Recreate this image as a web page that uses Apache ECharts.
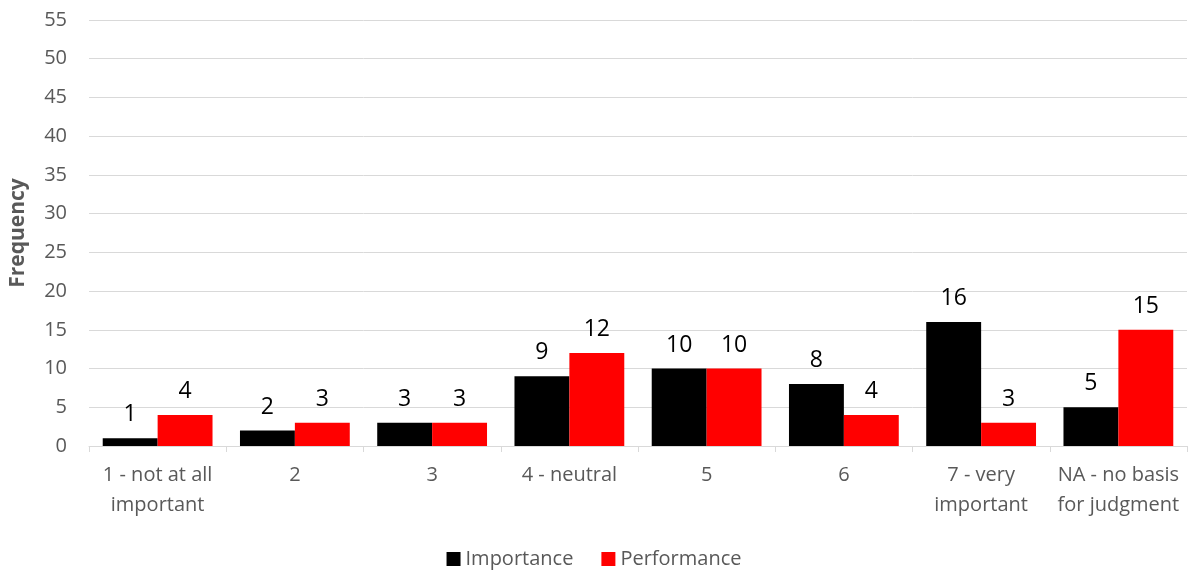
<!DOCTYPE html>
<html>
<head>
<meta charset="utf-8">
<script src="https://cdn.jsdelivr.net/npm/echarts@6/dist/echarts.min.js"></script>
<style>
  html, body { margin: 0; padding: 0; background: #fff; }
  #chart { width: 1188px; height: 572px; }
</style>
</head>
<body>
<div id="chart"></div>
<script>
  var categories = ['1 - not at all\nimportant', '2', '3', '4 - neutral', '5', '6', '7 - very\nimportant', 'NA - no basis\nfor judgment'];
  var importance = [1, 2, 3, 9, 10, 8, 16, 5];
  var performance = [4, 3, 3, 12, 10, 4, 3, 15];
  var yTicks = [0, 5, 10, 15, 20, 25, 30, 35, 40, 45, 50, 55];

  var font = '"Open Sans", Lato, sans-serif';
  var myChart = echarts.init(document.getElementById('chart'));

  var labelStyle = {
    show: true,
    position: 'top',
    distance: 12,
    color: '#000',
    fontSize: 23,
    fontFamily: font
  };

  myChart.setOption({
    animation: false,
    textStyle: {fontFamily: font},
    grid: {left: 89, right: 1, top: 20, bottom: 126, containLabel: false, outerBoundsMode: 'none'},
    legend: {
      top: 544,
      left: 'center',
      itemWidth: 14,
      itemHeight: 14,
      itemGap: 28,
      icon: 'rect',
      textStyle: {color: '#595959', fontSize: 20, fontFamily: font},
      data: ['Importance', 'Performance']
    },
    xAxis: {
      type: 'category',
      data: categories,
      axisLine: {lineStyle: {color: '#d9d9d9', width: 1}},
      axisTick: {show: true, length: 6, lineStyle: {color: '#d9d9d9'}},
      axisLabel: {color: '#595959', fontSize: 20, fontFamily: font, lineHeight: 30, margin: 14, interval: 0}
    },
    yAxis: {
      type: 'value',
      min: yTicks[0],
      max: yTicks[yTicks.length - 1],
      interval: 5,
      name: 'Frequency',
      nameLocation: 'middle',
      nameGap: 60,
      nameTextStyle: {color: '#595959', fontSize: 21, fontWeight: 'bold', fontFamily: font},
      axisLine: {show: false},
      axisTick: {show: false},
      axisLabel: {color: '#595959', fontSize: 20, fontFamily: font, margin: 22},
      splitLine: {lineStyle: {color: '#d9d9d9', width: 1}}
    },
    series: [
      {
        name: 'Importance',
        type: 'bar',
        data: importance,
        barGap: '0%',
        barCategoryGap: '20%',
        itemStyle: {color: '#000000'},
        label: labelStyle
      },
      {
        name: 'Performance',
        type: 'bar',
        data: performance,
        barGap: '0%',
        barCategoryGap: '20%',
        itemStyle: {color: '#ff0000'},
        label: labelStyle
      }
    ]
  });
</script>
</body>
</html>
